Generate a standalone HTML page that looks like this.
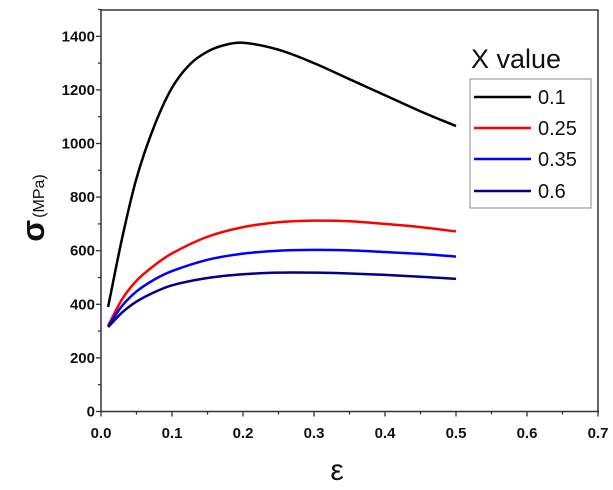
<!DOCTYPE html><html><head><style>body{margin:0;background:#fff}svg{display:block}text{font-family:"Liberation Sans",Arial,sans-serif}</style></head><body>
<svg id="s" width="613" height="490" xmlns="http://www.w3.org/2000/svg">
<g stroke="#333" stroke-width="1.5" fill="none">
<polyline points="101,10 598,10 598,411.5"/>
<line x1="101" y1="9" x2="101" y2="412"/>
<line x1="100" y1="411.5" x2="599" y2="411.5"/>
</g>
<g id="ticks" stroke="#333" stroke-width="1.3"></g>
<g id="lbl" font-size="15" font-weight="bold" fill="#111"></g>
<g id="curves" fill="none" stroke-width="2.5"></g>
<text x="337" y="480" font-size="30" text-anchor="middle" fill="#111">ε</text>
<g transform="translate(44,208) rotate(-90)"><text x="0" y="0" text-anchor="middle" fill="#111"><tspan font-size="32" font-weight="bold">σ</tspan><tspan font-size="16" dx="2">(MPa)</tspan></text></g>
<text x="471" y="68" font-size="27" fill="#111">X value</text>
<rect x="470" y="79" width="121" height="129" fill="#fff" stroke="#888" stroke-width="1"/>
<g stroke-width="2.5"><line x1="474" y1="97" x2="531" y2="97" stroke="#000"/><line x1="474" y1="128" x2="531" y2="128" stroke="#f00"/><line x1="474" y1="159" x2="531" y2="159" stroke="#00f"/><line x1="474" y1="191" x2="531" y2="191" stroke="#00008b"/></g>
<g font-size="20" fill="#111"><text x="538" y="104">0.1</text><text x="538" y="135">0.25</text><text x="538" y="166">0.35</text><text x="538" y="198">0.6</text></g>
</svg>
<script>
const X=e=>101+e*710,Y=v=>411.5-v*0.268,NS="http://www.w3.org/2000/svg";
function el(p,t,a,txt){const e=document.createElementNS(NS,t);for(const k in a)e.setAttribute(k,a[k]);if(txt!==undefined)e.textContent=txt;document.getElementById(p).appendChild(e);}
for(let i=0;i<=14;i++){const e=i*0.05,x=X(e);el("ticks","line",{x1:x,y1:411.5,x2:x,y2:411.5+(i%2?3:5)});if(i%2==0)el("lbl","text",{x:x,y:438,"text-anchor":"middle"},(e).toFixed(1));}
for(let i=0;i<=15;i++){const v=i*100,y=Y(v);el("ticks","line",{x1:101,y1:y,x2:101-(i%2?3:5),y2:y});if(i%2==0&&v<=1400)el("lbl","text",{x:95,y:y+5,"text-anchor":"end"},v);}
const D=[["#000",[[.01,390],[.03,650],[.05,870],[.075,1065],[.1,1208],[.125,1295],[.15,1343],[.175,1368],[.2,1376],[.25,1350],[.3,1300],[.35,1240],[.4,1180],[.45,1120],[.5,1065]]],
["#f00",[[.01,320],[.03,420],[.05,488],[.075,545],[.1,590],[.15,652],[.2,688],[.25,706],[.3,712],[.35,710],[.4,700],[.45,688],[.5,672]]],
["#00f",[[.01,318],[.03,395],[.05,448],[.075,492],[.1,524],[.15,566],[.2,589],[.25,600],[.3,603],[.35,601],[.4,595],[.45,588],[.5,578]]],
["#00008b",[[.01,315],[.03,370],[.05,410],[.075,445],[.1,471],[.15,498],[.2,512],[.25,518],[.3,518],[.35,515],[.4,510],[.45,503],[.5,495]]]];
for(const [c,pts] of D){const P=pts.map(p=>[X(p[0]),Y(p[1])]),n=P.length,m=[];
for(let i=0;i<n;i++){const a=P[Math.max(0,i-1)],b=P[Math.min(n-1,i+1)];m.push((b[1]-a[1])/(b[0]-a[0]));}
let d="M"+P[0];for(let i=0;i<n-1;i++){const dx=(P[i+1][0]-P[i][0])/3;d+=" C"+[P[i][0]+dx,P[i][1]+m[i]*dx,P[i+1][0]-dx,P[i+1][1]-m[i+1]*dx,P[i+1][0],P[i+1][1]].join(" ");}
el("curves","path",{d:d,stroke:c});}
</script></body></html>
